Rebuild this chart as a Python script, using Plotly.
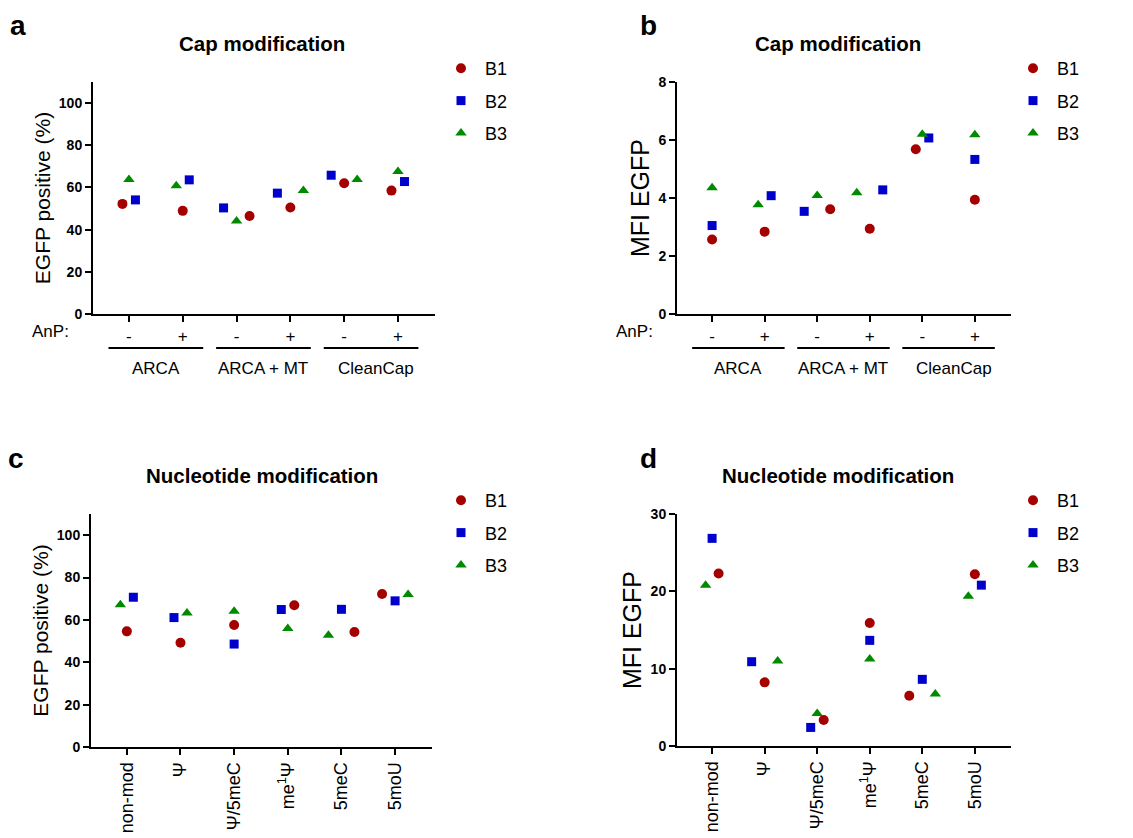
import plotly.graph_objects as go

# ---------------- data ----------------
cap_groups = ["ARCA", "ARCA + MT", "CleanCap"]
cap_ticks = ["-", "+", "-", "+", "-", "+"]
nuc_ticks = ["non-mod", "Ψ", "Ψ/5meC", "me<sup>1</sup>Ψ", "5meC", "5moU"]
series = ["B1", "B2", "B3"]

a_B1 = [52.2, 48.9, 46.5, 50.5, 62.0, 58.5]
a_B2 = [54.1, 63.6, 50.3, 57.3, 65.8, 62.8]
a_B3 = [63.8, 60.8, 44.1, 58.5, 63.8, 67.6]

b_B1 = [2.57, 2.84, 3.61, 2.94, 5.68, 3.94]
b_B2 = [3.05, 4.08, 3.54, 4.28, 6.07, 5.33]
b_B3 = [4.35, 3.77, 4.09, 4.18, 6.20, 6.18]

c_B1 = [54.6, 49.2, 57.6, 66.9, 54.3, 72.2]
c_B2 = [70.7, 61.1, 48.6, 64.9, 65.0, 69.0]
c_B3 = [67.1, 63.3, 64.1, 56.0, 52.8, 72.0]

d_B1 = [22.3, 8.23, 3.36, 15.9, 6.5, 22.2]
d_B2 = [26.85, 10.9, 2.4, 13.66, 8.62, 20.8]
d_B3 = [20.8, 11.0, 4.2, 11.25, 6.72, 19.35]

# ---------------- style ----------------
W, H = 1133, 838
FONT = "Liberation Sans, Arial, sans-serif"
colors = ["#A50000", "#0000CC", "#008A00"]
symbols = ["circle", "square", "triangle-up"]
sizes = [10, 9, 10]


def px_x(v):
    return v / W


def px_y(v):
    return 1 - v / H


# panel geometry in page pixels
panels = {
    "a": dict(x0=93, x1=435, yt=82, yb=314, ymax=110, dt=20, ticks=cap_ticks,
              data=[a_B1, a_B2, a_B3], ytitle="EGFP positive (%)", ytfs=21,
              tx=262, lx=437),
    "b": dict(x0=677, x1=1011, yt=82, yb=314, ymax=8, dt=2, ticks=cap_ticks,
              data=[b_B1, b_B2, b_B3], ytitle="MFI EGFP", ytfs=25,
              tx=838, lx=1009),
    "c": dict(x0=91, x1=432, yt=514, yb=747, ymax=110, dt=20, ticks=nuc_ticks,
              data=[c_B1, c_B2, c_B3], ytitle="EGFP positive (%)", ytfs=21,
              tx=262, lx=437),
    "d": dict(x0=677, x1=1011, yt=514, yb=746, ymax=30, dt=10, ticks=nuc_ticks,
              data=[d_B1, d_B2, d_B3], ytitle="MFI EGFP", ytfs=25,
              tx=838, lx=1009),
}
XR = [-0.668, 5.688]


def dodge(vals, ypu, step=13.0, thr=13.4):
    """Scatter-dot-plot style spreading of colliding points (pixels)."""
    n = len(vals)
    parent = list(range(n))

    def find(i):
        while parent[i] != i:
            i = parent[i]
        return i

    placed = {}
    for i in sorted(range(n), key=lambda k: vals[k]):
        y = vals[i] * ypu
        for cand in [0, step, -step, 2 * step, -2 * step]:
            hits = [j for j, o in placed.items()
                    if (cand - o) ** 2 + (y - vals[j] * ypu) ** 2 < thr ** 2]
            if not hits:
                break
            for j in hits:
                parent[find(j)] = find(i)
        placed[i] = cand
    groups = {}
    for i in range(n):
        groups.setdefault(find(i), []).append(i)
    for g in groups.values():
        mid = (max(placed[i] for i in g) + min(placed[i] for i in g)) / 2
        for i in g:
            placed[i] -= mid
    return [placed[i] for i in range(n)]


fig = go.Figure()
layout = {}
annotations = []
shapes = []

for k, (name, p) in enumerate(panels.items()):
    ax = "" if k == 0 else str(k + 1)
    xpx_per_cat = (p["x1"] - p["x0"]) / (XR[1] - XR[0])
    ypu = (p["yb"] - p["yt"]) / p["ymax"]
    ncat = len(p["ticks"])
    offs = [[0.0] * ncat for _ in series]
    for c in range(ncat):
        o = dodge([p["data"][s][c] for s in range(3)], ypu)
        for s in range(3):
            offs[s][c] = o[s] / xpx_per_cat
    leg = "legend" if k == 0 else "legend" + str(k + 1)
    for s, sname in enumerate(series):
        fig.add_trace(go.Scatter(
            x=[c + offs[s][c] for c in range(ncat)], y=p["data"][s],
            mode="markers", name=sname,
            marker=dict(color=colors[s], symbol=symbols[s], size=sizes[s],
                        line=dict(width=0)),
            xaxis="x" + ax, yaxis="y" + ax, legend=leg,
            legendgroup=name + sname, cliponaxis=False, showlegend=True))
    tickfs = 17 if name in "ab" else 18
    layout["xaxis" + ax] = dict(
        domain=[px_x(p["x0"]), px_x(p["x1"])], range=XR, anchor="y" + ax,
        automargin=False,
        tickmode="array", tickvals=list(range(ncat)), ticktext=p["ticks"],
        ticks="outside", ticklen=6, tickwidth=2, tickcolor="black",
        showline=True, linewidth=2, linecolor="black", showgrid=False,
        zeroline=False, tickfont=dict(family=FONT, size=tickfs, color="black"),
        tickangle=0 if name in "ab" else -90, fixedrange=True)
    layout["yaxis" + ax] = dict(
        domain=[px_y(p["yb"]), px_y(p["yt"])], range=[0, p["ymax"]],
        anchor="x" + ax, automargin=False,
        tickmode="linear", tick0=0, dtick=p["dt"],
        ticks="outside", ticklen=6, tickwidth=2, tickcolor="black",
        showline=True, linewidth=2, linecolor="black", showgrid=False,
        zeroline=False,
        tickfont=dict(family=FONT, size=14, color="black", weight="bold"),
        title=dict(text=p["ytitle"], standoff=2,
                   font=dict(family=FONT, size=p["ytfs"], color="black")),
        fixedrange=True)
    # legend
    layout[leg] = dict(
        x=px_x(p["lx"]), y=px_y(p["yt"] - 32), xanchor="left", yanchor="top",
        font=dict(family=FONT, size=18, color="black"), itemwidth=38,
        tracegroupgap=6, bgcolor="rgba(0,0,0,0)", itemclick=False,
        itemdoubleclick=False)
    # panel letter and title
    annotations.append(dict(
        text="<b>%s</b>" % name,
        x=px_x(p["x0"] - 85 if name in "ac" else p["x0"] - 39),
        y=px_y(p["yt"] - 56), xref="paper", yref="paper", xanchor="left",
        yanchor="middle", showarrow=False,
        font=dict(family=FONT, size=28, color="black")))
    title = "Cap modification" if name in "ab" else "Nucleotide modification"
    annotations.append(dict(
        text="<b>%s</b>" % title, x=px_x(p["tx"]),
        y=px_y(p["yt"] - 39), xref="paper", yref="paper", xanchor="center",
        yanchor="middle", showarrow=False,
        font=dict(family=FONT, size=20.5, color="black")))
    if name in "ab":
        annotations.append(dict(
            text="AnP:", x=px_x(p["x0"] - 63), y=px_y(331), xref="paper",
            yref="paper", xanchor="left", yanchor="middle", showarrow=False,
            font=dict(family=FONT, size=17, color="black")))
        for g, gname in enumerate(cap_groups):
            xc = 2 * g + 0.5
            shapes.append(dict(type="line", xref="x" + ax, yref="paper",
                               x0=xc - 0.88, x1=xc + 0.88,
                               y0=px_y(348), y1=px_y(348),
                               line=dict(color="black", width=2)))
            annotations.append(dict(
                text=gname, x=xc + (0.1 if g == 2 else 0), y=px_y(368),
                xref="x" + ax, yref="paper", xanchor="center",
                yanchor="middle", showarrow=False,
                font=dict(family=FONT, size=17, color="black")))

fig.update_layout(
    template="none",
    width=W, height=H, margin=dict(l=0, r=0, t=0, b=0, autoexpand=False),
    paper_bgcolor="white", plot_bgcolor="white",
    font=dict(family=FONT, color="black"),
    annotations=annotations, shapes=shapes, **layout)

fig.write_html(
    "out.html",
    config={"displayModeBar": False},
    post_script="document.body.style.margin='0';"
                "document.body.style.overflow='hidden';")
